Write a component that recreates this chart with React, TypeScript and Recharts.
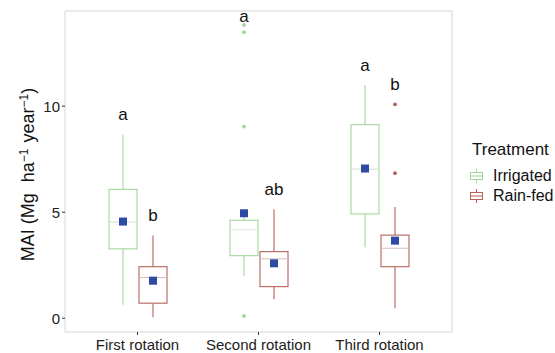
import React from "react";
import {
  ComposedChart,
  Bar,
  XAxis,
  YAxis,
  CartesianGrid,
  Legend,
  Label,
} from "recharts";

// five-number summaries, means and outliers per rotation
const rotations = ["First rotation", "Second rotation", "Third rotation"];

const irrigatedMin = [0.63, 2.0, 3.35];
const irrigatedQ1 = [3.27, 2.95, 4.92];
const irrigatedMedian = [4.53, 4.17, 7.03];
const irrigatedQ3 = [6.08, 4.62, 9.13];
const irrigatedMax = [8.65, 4.85, 11.0];
const irrigatedMean = [4.56, 4.95, 7.06];
const irrigatedOutliers = [[], [13.83, 13.49, 9.04, 0.11], []];
const irrigatedLetters = ["a", "a", "a"];

const rainfedMin = [0.05, 0.9, 0.47];
const rainfedQ1 = [0.71, 1.49, 2.43];
const rainfedMedian = [1.92, 2.8, 3.3];
const rainfedQ3 = [2.43, 3.14, 3.92];
const rainfedMax = [3.9, 5.14, 5.24];
const rainfedMean = [1.77, 2.59, 3.66];
const rainfedOutliers = [[], [], [10.09, 6.84]];
const rainfedLetters = ["b", "ab", "b"];

const yTicks = [0, 5, 10];

const IRRIGATED = "#a2d59b";
const IRRIGATED_MEDIAN = "#d8e8d5";
const RAINFED = "#b5625b";
const RAINFED_MEDIAN = "#d2c3c0";
const MEAN = "#2d4aa5";
const FONT = "'Liberation Sans', Arial, sans-serif";

type Summary = {
  min: number;
  q1: number;
  median: number;
  q3: number;
  max: number;
  mean: number;
  outliers: number[];
  letter: string;
};

const data = rotations.map((rotation, i) => ({
  rotation,
  irrigated: {
    min: irrigatedMin[i],
    q1: irrigatedQ1[i],
    median: irrigatedMedian[i],
    q3: irrigatedQ3[i],
    max: irrigatedMax[i],
    mean: irrigatedMean[i],
    outliers: irrigatedOutliers[i],
    letter: irrigatedLetters[i],
  } as Summary,
  rainfed: {
    min: rainfedMin[i],
    q1: rainfedQ1[i],
    median: rainfedMedian[i],
    q3: rainfedQ3[i],
    max: rainfedMax[i],
    mean: rainfedMean[i],
    outliers: rainfedOutliers[i],
    letter: rainfedLetters[i],
  } as Summary,
}));

// The bar itself spans q1..q3; everything else is placed with the same
// pixels-per-unit that the y scale gave the bar.
function boxShape(key: "irrigated" | "rainfed", color: string, medianColor: string) {
  return (props: any) => {
    const { x, y, width, height, payload } = props;
    const s: Summary = payload[key];
    const top = Math.min(y, y + height);
    const h = Math.abs(height);
    const k = h / (s.q3 - s.q1);
    const toY = (v: number) => top + (s.q3 - v) * k;
    const cx = x + width / 2;
    const highest = Math.max(s.max, ...s.outliers);
    const letterAt = Math.min(highest + 0.68, 13.98);
    return (
      <g>
        <line x1={cx} x2={cx} y1={toY(s.max)} y2={top} stroke={color} strokeWidth={1.1} />
        <line x1={cx} x2={cx} y1={top + h} y2={toY(s.min)} stroke={color} strokeWidth={1.1} />
        <rect x={x} y={top} width={width} height={h} fill="#fff" stroke={color} strokeWidth={1.1} />
        <line
          x1={x}
          x2={x + width}
          y1={toY(s.median)}
          y2={toY(s.median)}
          stroke={medianColor}
          strokeWidth={1.1}
        />
        {s.outliers.map((v, j) => (
          <circle key={j} cx={cx} cy={toY(v)} r={1.9} fill={color} />
        ))}
        <rect x={cx - 4} y={toY(s.mean) - 4} width={8} height={8} fill={MEAN} />
        <text x={cx} y={toY(letterAt)} textAnchor="middle" fontSize={17} fill="#111">
          {s.letter}
        </text>
      </g>
    );
  };
}

function YTitle(props: any) {
  const vb = props.viewBox || { x: 0, y: 0, width: 0, height: 0 };
  const px = vb.x + 29;
  const py = vb.y + vb.height / 2 + 3;
  return (
    <text
      x={px}
      y={py}
      transform={`rotate(-90, ${px}, ${py})`}
      textAnchor="middle"
      fontSize={18}
      fill="#111"
    >
      MAI (Mg
      <tspan dx={11}>ha</tspan>
      <tspan dy={-6} fontSize={12}>−1</tspan>
      <tspan dy={6} dx={6}>year</tspan>
      <tspan dy={-6} fontSize={12}>−1</tspan>
      <tspan dy={6}>)</tspan>
    </text>
  );
}

function TreatmentLegend() {
  const rows = [
    { label: "Irrigated", color: IRRIGATED },
    { label: "Rain-fed", color: RAINFED },
  ];
  return (
    <svg width={93} height={75} style={{ fontFamily: FONT }}>
      <text x={10} y={25} fontSize={17} fill="#111">
        Treatment
      </text>
      {rows.map((r, i) => {
        const top = 39 + i * 20;
        return (
          <g key={r.label}>
            <line x1={14.5} x2={14.5} y1={top} y2={top + 14} stroke={r.color} />
            <rect x={8.5} y={top + 3.5} width={12} height={7} fill="#fff" stroke={r.color} />
            <line x1={8.5} x2={20.5} y1={top + 7} y2={top + 7} stroke={r.color} />
            <text x={31} y={top + 12} fontSize={16} fill="#111">
              {r.label}
            </text>
          </g>
        );
      })}
    </svg>
  );
}

export default function App() {
  return (
    <div style={{ position: "absolute", left: 0, top: 0, fontFamily: FONT, background: "#fff" }}>
      <ComposedChart
        width={555}
        height={353}
        data={data}
        margin={{ top: 11, right: 103, bottom: 0, left: 5 }}
        barSize={28}
        barGap={2}
      >
        <CartesianGrid
          stroke="#d6d6d6"
          horizontalCoordinatesGenerator={({ offset }: any) => [offset.top, offset.top + offset.height]}
          verticalCoordinatesGenerator={({ offset }: any) => [offset.left, offset.left + offset.width]}
        />
        <XAxis
          dataKey="rotation"
          height={21}
          padding={{ left: 12, right: 12 }}
          axisLine={false}
          tickLine={{ stroke: "#333" }}
          tickSize={3}
          tickMargin={4}
          tick={{ fontSize: 15, fill: "#222" }}
          interval={0}
        />
        <YAxis
          type="number"
          width={60}
          domain={[-0.65, 14.49]}
          ticks={yTicks}
          allowDataOverflow
          axisLine={false}
          tickLine={{ stroke: "#333" }}
          tickSize={3}
          tick={{ fontSize: 15, fill: "#222" }}
        >
          <Label content={YTitle} />
        </YAxis>
        <Legend
          layout="vertical"
          align="center"
          verticalAlign="middle"
          wrapperStyle={{ left: 462, top: 130, width: 93, height: 75 }}
          content={() => <TreatmentLegend />}
        />
        <Bar
          dataKey={(d: any) => [d.irrigated.q1, d.irrigated.q3]}
          name="Irrigated"
          shape={boxShape("irrigated", IRRIGATED, IRRIGATED_MEDIAN)}
          isAnimationActive={false}
        />
        <Bar
          dataKey={(d: any) => [d.rainfed.q1, d.rainfed.q3]}
          name="Rain-fed"
          shape={boxShape("rainfed", RAINFED, RAINFED_MEDIAN)}
          isAnimationActive={false}
        />
      </ComposedChart>
    </div>
  );
}
